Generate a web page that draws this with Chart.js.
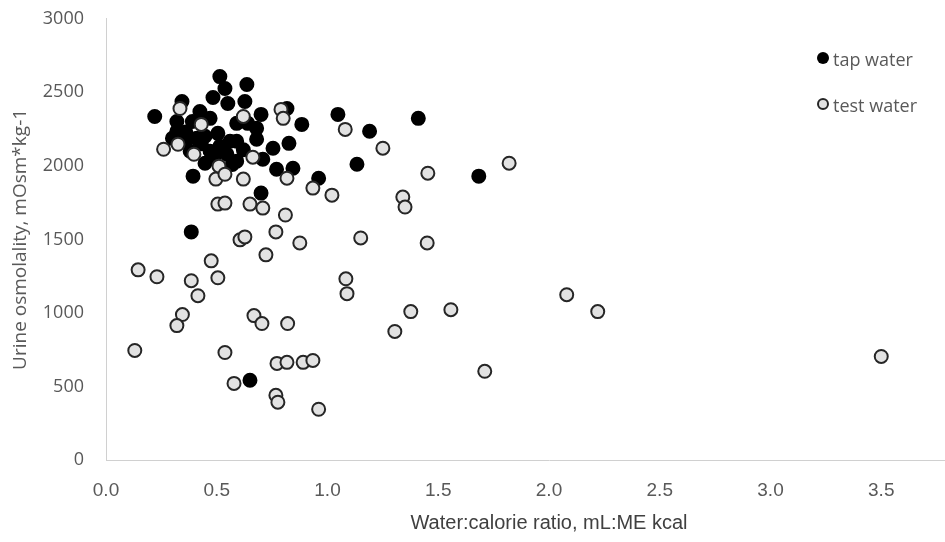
<!DOCTYPE html>
<html>
<head>
<meta charset="utf-8">
<script src="https://cdn.jsdelivr.net/npm/chart.js@4/dist/chart.umd.min.js"></script>
<style>
  html, body { margin: 0; padding: 0; background: #ffffff; overflow: hidden; width: 945px; height: 542px; }
  #wrap { position: absolute; left: 0; top: -14px; width: 1011px; height: 556px; }
  .leg { position: absolute; font-family: "Open Sans", sans-serif; font-size: 18px; color: #595959; line-height: 22px; white-space: nowrap; }
  .dot { position: absolute; border-radius: 50%; box-sizing: border-box; }
</style>
</head>
<body>
<div id="wrap"><canvas id="c" width="1011" height="556"></canvas></div>
<div class="dot" style="left:817px;top:52px;width:12px;height:12px;background:#000;"></div>
<div class="leg" style="left:833px;top:48px;">tap water</div>
<div class="dot" style="left:817px;top:98px;width:12px;height:12px;background:#e2e2e2;border:2px solid #262626;"></div>
<div class="leg" style="left:833px;top:94px;">test water</div>
<script>
// ---- data ----
const seriesNames = ["tap water", "test water"];

const tapX = [0.22, 0.343, 0.514, 0.537, 0.636, 0.483, 0.55, 0.627, 0.424, 0.47,
              0.39, 0.32, 0.32, 0.59, 0.64, 0.70, 0.68, 0.817, 0.884, 1.047,
              1.19, 1.41, 0.30, 0.357, 0.41, 0.447, 0.505, 0.56, 0.59, 0.68,
              0.38, 0.47, 0.514, 0.546, 0.447, 0.478, 0.59, 0.708, 0.754, 0.826,
              0.77, 0.844, 0.393, 0.70, 0.96, 1.133, 1.683, 0.385, 0.65,
              0.36, 0.50, 0.62, 0.43, 0.57];
const tapY = [2336, 2438, 2607, 2526, 2553, 2465, 2424, 2438, 2370, 2323,
              2302, 2302, 2235, 2289, 2289, 2350, 2255, 2390, 2282, 2350,
              2235, 2323, 2187, 2167, 2187, 2201, 2221, 2167, 2167, 2181,
              2099, 2099, 2133, 2079, 2018, 2052, 2032, 2045, 2120, 2153,
              1977, 1984, 1930, 1815, 1916, 2011, 1930, 1551, 542,
              2230, 2090, 2110, 2150, 2010];

const testX = [0.334, 0.43, 0.62, 0.79, 0.80, 0.325, 0.26, 0.397, 0.51, 0.663,
               0.817, 0.496, 0.537, 0.62, 0.505, 0.537, 0.65, 0.708, 0.934, 1.02,
               1.08, 1.25, 1.453, 1.82, 1.34, 1.35, 0.81, 0.767, 0.605, 0.627,
               0.722, 0.875, 1.15, 1.45, 0.145, 0.23, 0.475, 0.385, 0.505, 0.415,
               0.345, 0.32, 0.13, 0.537, 0.578, 0.767, 0.776, 0.96, 0.668, 0.704,
               0.82, 0.772, 0.817, 0.89, 0.934, 1.083, 1.088, 1.376, 1.557, 1.304,
               1.71, 2.08, 2.22, 3.50];
const testY = [2390, 2282, 2336, 2384, 2323, 2147, 2113, 2079, 1998, 2059,
               1916, 1910, 1943, 1910, 1740, 1747, 1740, 1713, 1849, 1801,
               2248, 2120, 1950, 2018, 1788, 1720, 1666, 1551, 1497, 1517,
               1395, 1476, 1510, 1476, 1293, 1246, 1354, 1219, 1239, 1117,
               989, 914, 745, 731, 521, 440, 393, 345, 982, 928,
               928, 657, 664, 664, 677, 1232, 1131, 1009, 1022, 874,
               603, 1124, 1009, 704];

const xTickValues = [0, 0.5, 1.0, 1.5, 2.0, 2.5, 3.0, 3.5];
const yTickValues = [0, 500, 1000, 1500, 2000, 2500, 3000];
const xTitle = "Water:calorie ratio, mL:ME kcal";
const yTitle = "Urine osmolality, mOsm*kg-1";

const toPts = (xs, ys) => xs.map((x, i) => ({ x: x, y: ys[i] }));

new Chart(document.getElementById('c'), {
  type: 'scatter',
  data: {
    datasets: [
      {
        label: seriesNames[0],
        data: toPts(tapX, tapY),
        backgroundColor: '#000000',
        borderColor: '#000000',
        borderWidth: 2,
        pointRadius: 6.5,
        order: 2
      },
      {
        label: seriesNames[1],
        data: toPts(testX, testY),
        backgroundColor: '#e2e2e2',
        borderColor: '#262626',
        borderWidth: 2,
        pointRadius: 6.5,
        order: 1
      }
    ]
  },
  options: {
    responsive: false,
    animation: false,
    devicePixelRatio: 1,
    layout: { padding: { top: 8, left: 0, right: 0, bottom: 0 } },
    plugins: { legend: { display: false }, tooltip: { enabled: false } },
    scales: {
      x: {
        type: 'linear',
        min: 0, max: 4,
        afterBuildTicks: (s) => { s.ticks = xTickValues.concat([4]).map(v => ({ value: v })); },
        afterFit: (s) => { s.height = 82; },
        grid: { display: false, drawTicks: false },
        border: { display: true, color: '#d0d0d0', width: 1 },
        ticks: {
          padding: 19,
          color: '#595959',
          font: { family: 'Liberation Sans', size: 19 },
          callback: (v) => (xTickValues.includes(v) ? v.toFixed(1) : '')
        },
        title: {
          display: true,
          text: xTitle,
          color: '#404040',
          font: { family: 'Liberation Sans', size: 20 },
          padding: { top: 0, bottom: 7 }
        }
      },
      y: {
        type: 'linear',
        min: 0, max: 3000,
        afterBuildTicks: (s) => { s.ticks = yTickValues.map(v => ({ value: v })); },
        afterFit: (s) => { s.width = 106; },
        grid: { display: false, drawTicks: false },
        border: { display: true, color: '#d0d0d0', width: 1 },
        ticks: {
          padding: 22,
          color: '#595959',
          font: { family: 'Open Sans', size: 18 },
          callback: (v) => String(v)
        },
        title: {
          display: true,
          text: yTitle,
          color: '#595959',
          font: { family: 'Open Sans', size: 19 },
          padding: { top: 9, bottom: 0 }
        }
      }
    }
  }
});
</script>
</body>
</html>
